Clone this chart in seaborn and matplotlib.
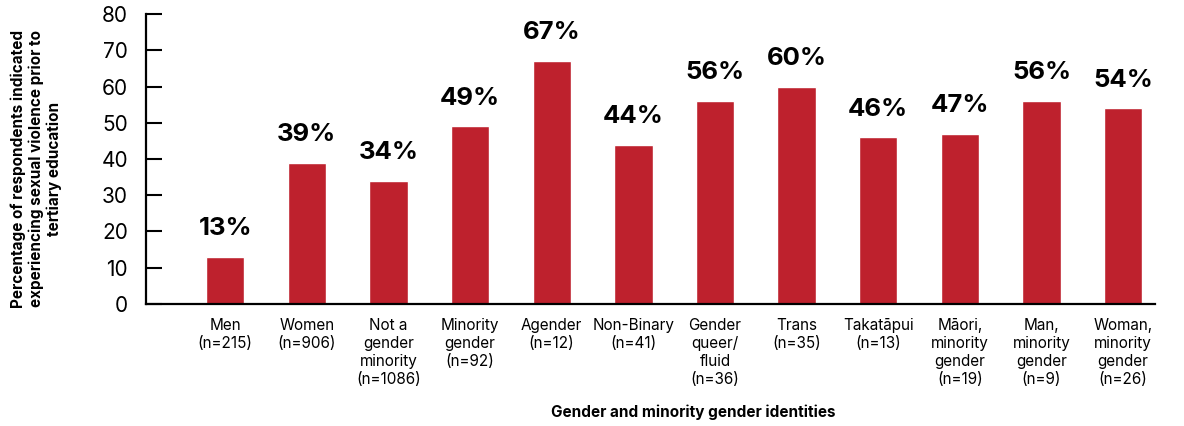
import matplotlib
matplotlib.use("Agg")
import matplotlib.pyplot as plt
import seaborn as sns
import pandas as pd

# categories (tick labels) and percentages
groups = [
    "Men\n(n=215)",
    "Women\n(n=906)",
    "Not a\ngender\nminority\n(n=1086)",
    "Minority\ngender\n(n=92)",
    "Agender\n(n=12)",
    "Non-Binary\n(n=41)",
    "Gender\nqueer/\nfluid\n(n=36)",
    "Trans\n(n=35)",
    "Takatāpui\n(n=13)",
    "Māori,\nminority\ngender\n(n=19)",
    "Man,\nminority\ngender\n(n=9)",
    "Woman,\nminority\ngender\n(n=26)",
]
percent = [13, 39, 34, 49, 67, 44, 56, 60, 46, 47, 56, 54]

BAR_COLOR = "#BE212D"

sns.set_style("white")
plt.rcParams["font.family"] = ["Inter", "DejaVu Sans"]
plt.rcParams["text.color"] = "black"
plt.rcParams["axes.labelcolor"] = "black"
plt.rcParams["xtick.color"] = "black"
plt.rcParams["ytick.color"] = "black"

df = pd.DataFrame({"group": groups, "percent": percent})

fig = plt.figure(figsize=(11.84, 4.26), dpi=100)
ax = fig.add_axes([0.1233, 0.2864, 0.8522, 0.6807])

sns.barplot(data=df, x="group", y="percent", color=BAR_COLOR, width=0.47,
            saturation=1, ax=ax)

for bar, val in zip(ax.patches, percent):
    ax.annotate(f"{val}%", (bar.get_x() + bar.get_width() / 2, bar.get_height()),
                xytext=(0, 12), textcoords="offset points",
                ha="center", va="bottom", fontsize=18.5, fontweight="bold")

ax.set_ylim(0, 80)
ax.set_xlim(-0.97, 11.39)
ax.set_yticks(range(0, 81, 10))

sns.despine(ax=ax)
for side in ["left", "bottom"]:
    ax.spines[side].set_color("black")
    ax.spines[side].set_linewidth(1.6)

ax.tick_params(axis="y", direction="in", length=11.5, width=1.5, pad=13,
               labelsize=15, left=True)
ax.tick_params(axis="x", length=0, pad=10, labelsize=11)
for lab in ax.get_xticklabels():
    lab.set_linespacing(1.25)

ax.set_xlabel("Gender and minority gender identities", fontsize=11,
              fontweight="bold")
ax.set_ylabel("Percentage of respondents indicated\nexperiencing sexual violence prior to\ntertiary education",
              fontsize=11, fontweight="bold")
ax.xaxis.set_label_coords(0.542, -0.345)
ax.yaxis.set_label_coords(-0.083, 0.466)

fig.savefig("out.png", dpi=100)
